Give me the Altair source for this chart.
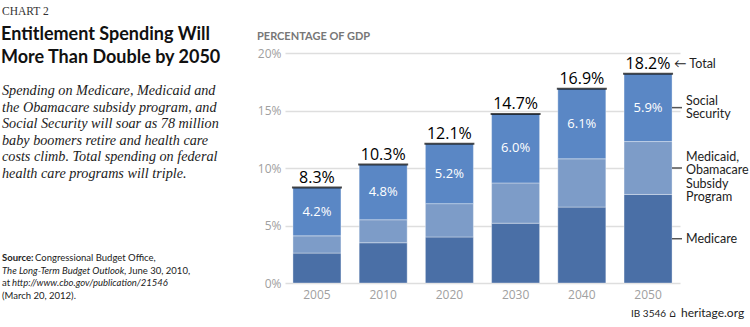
import altair as alt
import pandas as pd

years = ["2005", "2010", "2020", "2030", "2040", "2050"]
medicare = [2.6, 3.5, 4.0, 5.2, 6.6, 7.7]
medicaid = [1.5, 2.0, 2.9, 3.5, 4.2, 4.6]
social_security = [4.2, 4.8, 5.2, 6.0, 6.1, 5.9]
totals = [8.3, 10.3, 12.1, 14.7, 16.9, 18.2]

series_names = ["Medicare", "Medicaid, Obamacare Subsidy Program", "Social Security"]
series_colors = ["#4a6fa6", "#7d9cc8", "#5a87c5"]
legend_labels = ["Medicare", "Medicaid,\nObamacare\nSubsidy\nProgram", "Social\nSecurity"]
legend_dy = [0, -11, -6.5]

W, H = 395, 230
L, T = 285, 53

rows = []
for i, yr in enumerate(years):
    base = 0.0
    for name, vals in zip(series_names, [medicare, medicaid, social_security]):
        v = vals[i]
        rows.append({"year": yr, "series": name, "y0": base, "y1": base + v,
                     "mid": base + v / 2, "val": v})
        base += v
seg = pd.DataFrame(rows)
tot = pd.DataFrame({"year": years, "total": totals,
                    "label": [f"{t:.1f}%" for t in totals]})

xenc = alt.X("year:N", title=None, sort=years,
             scale=alt.Scale(paddingInner=0.275, paddingOuter=0.12),
             axis=alt.Axis(labelColor="#a0a0a0", labelFontSize=12, labelFont="Open Sans",
                           labelPadding=6, domain=False, ticks=False, labelAngle=0))
yscale = alt.Scale(domain=[0, 20], nice=False)

bars = alt.Chart(seg).mark_bar(stroke="white", strokeOpacity=0.35, strokeWidth=1).encode(
    x=xenc,
    y=alt.Y("y0:Q", scale=yscale, title=None,
            axis=alt.Axis(values=[0, 5, 10, 15, 20], labelExpr="datum.value + '%'",
                          labelColor="#a0a0a0", labelFontSize=12, labelFont="Open Sans",
                          labelPadding=4, domain=False, ticks=False,
                          gridColor="#dedede", gridWidth=1.5)),
    y2="y1:Q",
    color=alt.Color("series:N", scale=alt.Scale(domain=series_names, range=series_colors),
                    legend=None),
)

ss = seg[seg["series"] == "Social Security"].copy()
ss["label"] = [f"{v:.1f}%" for v in ss["val"]]
inner = alt.Chart(ss).mark_text(color="white", fontSize=13, font="Open Sans").encode(
    x=alt.X("year:N", sort=years), y=alt.Y("mid:Q"), text="label:N")

topline = alt.Chart(tot).mark_tick(color="black", thickness=2, size=50).encode(
    x=alt.X("year:N", sort=years), y=alt.Y("total:Q"))

totlab = alt.Chart(tot).mark_text(color="black", fontSize=16, font="Open Sans",
                                  baseline="bottom", dy=-2).encode(
    x=alt.X("year:N", sort=years), y=alt.Y("total:Q"), text="label:N")

last = seg[seg["year"] == "2050"].copy()
legticks = alt.Chart(last).mark_rule(color="#555", strokeWidth=1.5).encode(
    x=alt.value(W - 8), x2=alt.value(W + 2), y=alt.Y("mid:Q"))

legtexts = []
for name, lab, dy in zip(series_names, legend_labels, legend_dy):
    d = last[last["series"] == name].copy()
    d["legend"] = lab
    legtexts.append(alt.Chart(d).mark_text(
        align="left", baseline="middle", fontSize=12.5, font="Lato", color="#222",
        lineHeight=13.3, lineBreak="\n", dy=dy).encode(
        x=alt.value(W + 6), y=alt.Y("mid:Q"), text="legend:N"))

tot_last = tot[tot["year"] == "2050"].copy()
tot_last["lg"] = "\u2190 Total"
totleg = alt.Chart(tot_last).mark_text(align="left", baseline="bottom", dy=-3, fontSize=12.5,
                                       font="Lato", color="#222").encode(
    x=alt.value(W - 6), y=alt.Y("total:Q"), text="lg:N")


def txt(s, ax, ay, **kw):
    return alt.Chart(pd.DataFrame({"t": [s]})).mark_text(
        align="left", baseline="alphabetic", **kw).encode(
        x=alt.value(ax - L), y=alt.value(ay - T), text="t:N")


texts = [
    txt("CHART 2", 2, 15, font="Liberation Serif", fontSize=11.5, color="#333"),
    txt("Entitlement Spending Will", 1, 40, font="Lato", fontWeight="bold", fontSize=18, color="#111"),
    txt("More Than Double by 2050", 1, 63, font="Lato", fontWeight="bold", fontSize=18, color="#111"),
]
desc = ["Spending on Medicare, Medicaid and",
        "the Obamacare subsidy program, and",
        "Social Security will soar as 78 million",
        "baby boomers retire and health care",
        "costs climb. Total spending on federal",
        "health care programs will triple."]
for k, line in enumerate(desc):
    texts.append(txt(line, 2, 95 + 16.5 * k, font="Liberation Serif", fontStyle="italic",
                     fontSize=14.2, color="#222"))
src_font = dict(font="Lato", fontSize=9.5, color="#222")
texts += [
    txt("Source:", 2, 261, fontWeight="bold", **src_font),
    txt("Congressional Budget Office,", 35, 261, **src_font),
    txt("The Long-Term Budget Outlook", 2, 273.5, fontStyle="italic", **src_font),
    txt(", June 30, 2010,", 124, 273.5, **src_font),
    txt("at", 2, 286, **src_font),
    txt("http://www.cbo.gov/publication/21546", 12, 286, fontStyle="italic", **src_font),
    txt("(March 20, 2012).", 2, 298.5, **src_font),
    txt("PERCENTAGE OF GDP", 257, 40, font="Lato", fontWeight="bold", fontSize=11, color="#777"),
    txt("IB 3546", 631, 317, font="Lato", fontSize=10, color="#222"),
    txt("\u2302", 669, 317, font="DejaVu Sans", fontSize=11, color="#222"),
    txt("heritage.org", 681, 317, font="Lato", fontSize=12, color="#222"),
]

chart = alt.layer(bars, inner, topline, totlab, legticks, *legtexts, totleg, *texts).properties(
    width=W, height=H,
    padding={"left": L, "top": T, "right": 750 - L - W, "bottom": 327 - T - H},
    autosize=alt.AutoSizeParams(type="none"),
).configure_view(stroke=None)

chart.save("out.html", embed_options={"renderer": "svg", "actions": False})
